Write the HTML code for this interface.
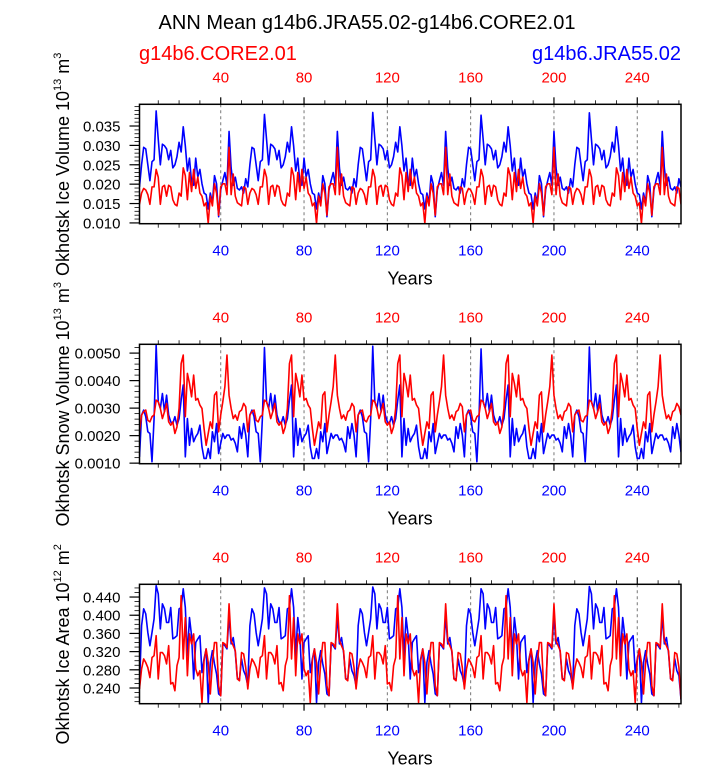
<!DOCTYPE html>
<html><head><meta charset="utf-8"><style>
body{margin:0;background:#fff;}
svg{display:block;font-family:"Liberation Sans",sans-serif;}
</style></head><body>
<svg id="chart" width="723" height="765"></svg>
<script>
// ---- data (repeating forcing cycles) ----
const iceVolBlue=[0.0193,0.0250,0.0295,0.0291,0.0250,0.0209,0.0258,0.0263,0.0389,0.0316,0.0250,0.0303,0.0299,0.0291,0.0263,0.0287,0.0242,0.0250,0.0271,0.0308,0.0283,0.0348,0.0299,0.0234,0.0267,0.0205,0.0197,0.0267,0.0218,0.0238,0.0201,0.0177,0.0173,0.0136,0.0177,0.0152,0.0222,0.0201,0.0116,0.0185,0.0209,0.0230,0.0197,0.0336,0.0242,0.0197,0.0218,0.0189,0.0185,0.0193,0.0177,0.0214,
0.0193,0.0250,0.0295,0.0291,0.0250,0.0209,0.0258,0.0263,0.0380,0.0316,0.0250,0.0303,0.0299,0.0291,0.0263,0.0287,0.0242,0.0250,0.0271,0.0308,0.0283,0.0348,0.0299,0.0234,0.0267,0.0205,0.0197,0.0267,0.0218,0.0238,0.0201,0.0177,0.0173,0.0136,0.0177,0.0152,0.0222,0.0201,0.0116,0.0185,0.0209,0.0230,0.0197,0.0336,0.0242,0.0197,0.0218,0.0189,0.0185,0.0193,0.0177,0.0214,
0.0193,0.0250,0.0295,0.0291,0.0250,0.0209,0.0258,0.0263,0.0385,0.0316,0.0250,0.0303,0.0299,0.0291,0.0263,0.0287,0.0242,0.0250,0.0271,0.0308,0.0283,0.0348,0.0299,0.0234,0.0267,0.0205,0.0197,0.0267,0.0218,0.0238,0.0201,0.0177,0.0173,0.0136,0.0177,0.0152,0.0222,0.0201,0.0116,0.0185,0.0209,0.0230,0.0197,0.0336,0.0242,0.0197,0.0218,0.0189,0.0185,0.0193,0.0177,0.0214,
0.0193,0.0250,0.0295,0.0291,0.0250,0.0209,0.0258,0.0263,0.0378,0.0316,0.0250,0.0303,0.0299,0.0291,0.0263,0.0287,0.0242,0.0250,0.0271,0.0308,0.0283,0.0348,0.0299,0.0234,0.0267,0.0205,0.0197,0.0267,0.0218,0.0238,0.0201,0.0177,0.0173,0.0136,0.0177,0.0152,0.0222,0.0201,0.0116,0.0185,0.0209,0.0230,0.0197,0.0336,0.0242,0.0197,0.0218,0.0189,0.0185,0.0193,0.0177,0.0214,
0.0193,0.0250,0.0295,0.0291,0.0250,0.0209,0.0258,0.0263,0.0384,0.0316,0.0250,0.0303,0.0299,0.0291,0.0263,0.0287,0.0242,0.0250,0.0271,0.0308,0.0283,0.0348,0.0299,0.0234,0.0267,0.0205,0.0197,0.0267,0.0218,0.0238,0.0201,0.0177,0.0173,0.0136,0.0177,0.0152,0.0222,0.0201,0.0116,0.0185,0.0209,0.0230,0.0197,0.0336,0.0242,0.0197,0.0218,0.0189,0.0185,0.0193,0.0177,0.0214,
0.0193];
const iceVolRed=[0.0148,0.0177,0.0189,0.0185,0.0173,0.0148,0.0193,0.0193,0.0238,0.0218,0.0148,0.0193,0.0197,0.0169,0.0197,0.0193,0.0160,0.0148,0.0144,0.0177,0.0169,0.0242,0.0222,0.0160,0.0230,0.0181,0.0238,0.0189,0.0218,0.0177,0.0169,0.0144,0.0152,0.0099,0.0169,0.0144,0.0201,0.0177,0.0120,0.0193,0.0201,0.0201,0.0173,0.0295,0.0173,0.0226,0.0169,0.0152,0.0148,0.0144,0.0193,0.0189,
0.0148,0.0177,0.0189,0.0185,0.0173,0.0148,0.0193,0.0193,0.0238,0.0218,0.0148,0.0193,0.0197,0.0169,0.0197,0.0193,0.0160,0.0148,0.0144,0.0177,0.0169,0.0242,0.0222,0.0160,0.0230,0.0181,0.0238,0.0189,0.0218,0.0177,0.0169,0.0144,0.0152,0.0099,0.0169,0.0144,0.0201,0.0177,0.0120,0.0193,0.0201,0.0201,0.0173,0.0295,0.0173,0.0226,0.0169,0.0152,0.0148,0.0144,0.0193,0.0189,
0.0148,0.0177,0.0189,0.0185,0.0173,0.0148,0.0193,0.0193,0.0238,0.0218,0.0148,0.0193,0.0197,0.0169,0.0197,0.0193,0.0160,0.0148,0.0144,0.0177,0.0169,0.0242,0.0222,0.0160,0.0230,0.0181,0.0238,0.0189,0.0218,0.0177,0.0169,0.0144,0.0152,0.0099,0.0169,0.0144,0.0201,0.0177,0.0120,0.0193,0.0201,0.0201,0.0173,0.0295,0.0173,0.0226,0.0169,0.0152,0.0148,0.0144,0.0193,0.0189,
0.0148,0.0177,0.0189,0.0185,0.0173,0.0148,0.0193,0.0193,0.0238,0.0218,0.0148,0.0193,0.0197,0.0169,0.0197,0.0193,0.0160,0.0148,0.0144,0.0177,0.0169,0.0242,0.0222,0.0160,0.0230,0.0181,0.0238,0.0189,0.0218,0.0177,0.0169,0.0144,0.0152,0.0099,0.0169,0.0144,0.0201,0.0177,0.0120,0.0193,0.0201,0.0201,0.0173,0.0295,0.0173,0.0226,0.0169,0.0152,0.0148,0.0144,0.0193,0.0189,
0.0148,0.0177,0.0189,0.0185,0.0173,0.0148,0.0193,0.0193,0.0238,0.0218,0.0148,0.0193,0.0197,0.0169,0.0197,0.0193,0.0160,0.0148,0.0144,0.0177,0.0169,0.0242,0.0222,0.0160,0.0230,0.0181,0.0238,0.0189,0.0218,0.0177,0.0169,0.0144,0.0152,0.0099,0.0169,0.0144,0.0201,0.0177,0.0120,0.0193,0.0201,0.0201,0.0173,0.0295,0.0173,0.0226,0.0169,0.0152,0.0148,0.0144,0.0193,0.0189,
0.0148];
const snowBlue=[0.00123,0.00275,0.00293,0.00269,0.00214,0.00208,0.00105,0.00262,0.00529,0.00323,0.00299,0.00353,0.00287,0.00347,0.00275,0.00250,0.00244,0.00269,0.00238,0.00262,0.00329,0.00384,0.00123,0.00262,0.00165,0.00226,0.00178,0.00196,0.00208,0.00238,0.00159,0.00117,0.00117,0.00153,0.00117,0.00214,0.00178,0.00244,0.00135,0.00172,0.00208,0.00190,0.00202,0.00202,0.00184,0.00190,0.00172,0.00141,0.00232,0.00190,0.00244,0.00202,
0.00123,0.00275,0.00293,0.00269,0.00214,0.00208,0.00105,0.00262,0.00520,0.00323,0.00299,0.00353,0.00287,0.00347,0.00275,0.00250,0.00244,0.00269,0.00238,0.00262,0.00329,0.00384,0.00123,0.00262,0.00165,0.00226,0.00178,0.00196,0.00208,0.00238,0.00159,0.00117,0.00117,0.00153,0.00117,0.00214,0.00178,0.00244,0.00135,0.00172,0.00208,0.00190,0.00202,0.00202,0.00184,0.00190,0.00172,0.00141,0.00232,0.00190,0.00244,0.00202,
0.00123,0.00275,0.00293,0.00269,0.00214,0.00208,0.00105,0.00262,0.00525,0.00323,0.00299,0.00353,0.00287,0.00347,0.00275,0.00250,0.00244,0.00269,0.00238,0.00262,0.00329,0.00384,0.00123,0.00262,0.00165,0.00226,0.00178,0.00196,0.00208,0.00238,0.00159,0.00117,0.00117,0.00153,0.00117,0.00214,0.00178,0.00244,0.00135,0.00172,0.00208,0.00190,0.00202,0.00202,0.00184,0.00190,0.00172,0.00141,0.00232,0.00190,0.00244,0.00202,
0.00123,0.00275,0.00293,0.00269,0.00214,0.00208,0.00105,0.00262,0.00515,0.00323,0.00299,0.00353,0.00287,0.00347,0.00275,0.00250,0.00244,0.00269,0.00238,0.00262,0.00329,0.00384,0.00123,0.00262,0.00165,0.00226,0.00178,0.00196,0.00208,0.00238,0.00159,0.00117,0.00117,0.00153,0.00117,0.00214,0.00178,0.00244,0.00135,0.00172,0.00208,0.00190,0.00202,0.00202,0.00184,0.00190,0.00172,0.00141,0.00232,0.00190,0.00244,0.00202,
0.00123,0.00275,0.00293,0.00269,0.00214,0.00208,0.00105,0.00262,0.00522,0.00323,0.00299,0.00353,0.00287,0.00347,0.00275,0.00250,0.00244,0.00269,0.00238,0.00262,0.00329,0.00384,0.00123,0.00262,0.00165,0.00226,0.00178,0.00196,0.00208,0.00238,0.00159,0.00117,0.00117,0.00153,0.00117,0.00214,0.00178,0.00244,0.00135,0.00172,0.00208,0.00190,0.00202,0.00202,0.00184,0.00190,0.00172,0.00141,0.00232,0.00190,0.00244,0.00202,
0.00140];
const snowRed=[0.00214,0.00275,0.00287,0.00293,0.00256,0.00250,0.00269,0.00275,0.00329,0.00323,0.00299,0.00262,0.00287,0.00317,0.00250,0.00238,0.00250,0.00208,0.00232,0.00299,0.00462,0.00493,0.00269,0.00426,0.00390,0.00341,0.00420,0.00329,0.00335,0.00311,0.00299,0.00226,0.00165,0.00208,0.00250,0.00226,0.00347,0.00359,0.00214,0.00275,0.00323,0.00378,0.00493,0.00347,0.00299,0.00262,0.00275,0.00256,0.00287,0.00293,0.00317,0.00305,
0.00214,0.00275,0.00287,0.00293,0.00256,0.00250,0.00269,0.00275,0.00329,0.00323,0.00299,0.00262,0.00287,0.00317,0.00250,0.00238,0.00250,0.00208,0.00232,0.00299,0.00462,0.00493,0.00269,0.00426,0.00390,0.00341,0.00420,0.00329,0.00335,0.00311,0.00299,0.00226,0.00165,0.00208,0.00250,0.00226,0.00347,0.00359,0.00214,0.00275,0.00323,0.00378,0.00493,0.00347,0.00299,0.00262,0.00275,0.00256,0.00287,0.00293,0.00317,0.00305,
0.00214,0.00275,0.00287,0.00293,0.00256,0.00250,0.00269,0.00275,0.00329,0.00323,0.00299,0.00262,0.00287,0.00317,0.00250,0.00238,0.00250,0.00208,0.00232,0.00299,0.00462,0.00493,0.00269,0.00426,0.00390,0.00341,0.00420,0.00329,0.00335,0.00311,0.00299,0.00226,0.00165,0.00208,0.00250,0.00226,0.00347,0.00359,0.00214,0.00275,0.00323,0.00378,0.00493,0.00347,0.00299,0.00262,0.00275,0.00256,0.00287,0.00293,0.00317,0.00305,
0.00214,0.00275,0.00287,0.00293,0.00256,0.00250,0.00269,0.00275,0.00329,0.00323,0.00299,0.00262,0.00287,0.00317,0.00250,0.00238,0.00250,0.00208,0.00232,0.00299,0.00462,0.00493,0.00269,0.00426,0.00390,0.00341,0.00420,0.00329,0.00335,0.00311,0.00299,0.00226,0.00165,0.00208,0.00250,0.00226,0.00347,0.00359,0.00214,0.00275,0.00323,0.00378,0.00493,0.00347,0.00299,0.00262,0.00275,0.00256,0.00287,0.00293,0.00317,0.00305,
0.00214,0.00275,0.00287,0.00293,0.00256,0.00250,0.00269,0.00275,0.00329,0.00323,0.00299,0.00262,0.00287,0.00317,0.00250,0.00238,0.00250,0.00208,0.00232,0.00299,0.00462,0.00493,0.00269,0.00426,0.00390,0.00341,0.00420,0.00329,0.00335,0.00311,0.00299,0.00226,0.00165,0.00208,0.00250,0.00226,0.00347,0.00359,0.00214,0.00275,0.00323,0.00378,0.00493,0.00347,0.00299,0.00262,0.00275,0.00256,0.00287,0.00293,0.00317,0.00305,
0.00275];
const areaBlue=[0.245,0.377,0.414,0.403,0.362,0.333,0.362,0.392,0.465,0.447,0.370,0.425,0.414,0.384,0.384,0.417,0.348,0.351,0.355,0.414,0.417,0.458,0.417,0.311,0.395,0.355,0.260,0.340,0.348,0.355,0.274,0.304,0.326,0.208,0.296,0.322,0.293,0.271,0.227,0.223,0.337,0.333,0.326,0.399,0.337,0.351,0.318,0.260,0.260,0.304,0.278,0.267,
0.245,0.377,0.414,0.403,0.362,0.333,0.362,0.392,0.460,0.447,0.370,0.425,0.414,0.384,0.384,0.417,0.348,0.351,0.355,0.414,0.417,0.458,0.417,0.311,0.395,0.355,0.260,0.340,0.348,0.355,0.274,0.304,0.326,0.208,0.296,0.322,0.293,0.271,0.227,0.223,0.337,0.333,0.326,0.399,0.337,0.351,0.318,0.260,0.260,0.304,0.278,0.267,
0.245,0.377,0.414,0.403,0.362,0.333,0.362,0.392,0.462,0.447,0.370,0.425,0.414,0.384,0.384,0.417,0.348,0.351,0.355,0.414,0.417,0.458,0.417,0.311,0.395,0.355,0.260,0.340,0.348,0.355,0.274,0.304,0.326,0.208,0.296,0.322,0.293,0.271,0.227,0.223,0.337,0.333,0.326,0.399,0.337,0.351,0.318,0.260,0.260,0.304,0.278,0.267,
0.245,0.377,0.414,0.403,0.362,0.333,0.362,0.392,0.458,0.447,0.370,0.425,0.414,0.384,0.384,0.417,0.348,0.351,0.355,0.414,0.417,0.458,0.417,0.311,0.395,0.355,0.260,0.340,0.348,0.355,0.274,0.304,0.326,0.208,0.296,0.322,0.293,0.271,0.227,0.223,0.337,0.333,0.326,0.399,0.337,0.351,0.318,0.260,0.260,0.304,0.278,0.267,
0.245,0.377,0.414,0.403,0.362,0.333,0.362,0.392,0.463,0.447,0.370,0.425,0.414,0.384,0.384,0.417,0.348,0.351,0.355,0.414,0.417,0.458,0.417,0.311,0.395,0.355,0.260,0.340,0.348,0.355,0.274,0.304,0.326,0.208,0.296,0.322,0.293,0.271,0.227,0.223,0.337,0.333,0.326,0.399,0.337,0.351,0.318,0.260,0.260,0.304,0.278,0.267,
0.215];
const areaRed=[0.238,0.282,0.304,0.296,0.285,0.263,0.307,0.311,0.355,0.260,0.318,0.318,0.311,0.293,0.333,0.249,0.252,0.234,0.289,0.307,0.443,0.304,0.395,0.267,0.359,0.337,0.359,0.282,0.267,0.278,0.208,0.300,0.326,0.296,0.227,0.296,0.340,0.340,0.245,0.223,0.340,0.337,0.329,0.425,0.344,0.333,0.322,0.260,0.256,0.318,0.315,0.285,
0.238,0.282,0.304,0.296,0.285,0.263,0.307,0.311,0.355,0.260,0.318,0.318,0.311,0.293,0.333,0.249,0.252,0.234,0.289,0.307,0.443,0.304,0.395,0.267,0.359,0.337,0.359,0.282,0.267,0.278,0.208,0.300,0.326,0.296,0.227,0.296,0.340,0.340,0.245,0.223,0.340,0.337,0.329,0.425,0.344,0.333,0.322,0.260,0.256,0.318,0.315,0.285,
0.238,0.282,0.304,0.296,0.285,0.263,0.307,0.311,0.355,0.260,0.318,0.318,0.311,0.293,0.333,0.249,0.252,0.234,0.289,0.307,0.443,0.304,0.395,0.267,0.359,0.337,0.359,0.282,0.267,0.278,0.208,0.300,0.326,0.296,0.227,0.296,0.340,0.340,0.245,0.223,0.340,0.337,0.329,0.425,0.344,0.333,0.322,0.260,0.256,0.318,0.315,0.285,
0.238,0.282,0.304,0.296,0.285,0.263,0.307,0.311,0.355,0.260,0.318,0.318,0.311,0.293,0.333,0.249,0.252,0.234,0.289,0.307,0.443,0.304,0.395,0.267,0.359,0.337,0.359,0.282,0.267,0.278,0.208,0.300,0.326,0.296,0.227,0.296,0.340,0.340,0.245,0.223,0.340,0.337,0.329,0.425,0.344,0.333,0.322,0.260,0.256,0.318,0.315,0.285,
0.238,0.282,0.304,0.296,0.285,0.263,0.307,0.311,0.355,0.260,0.318,0.318,0.311,0.293,0.333,0.249,0.252,0.234,0.289,0.307,0.443,0.304,0.395,0.267,0.359,0.337,0.359,0.282,0.267,0.278,0.208,0.300,0.326,0.296,0.227,0.296,0.340,0.340,0.245,0.223,0.340,0.337,0.329,0.425,0.344,0.333,0.322,0.260,0.256,0.318,0.315,0.285,
0.215];
const xTicks=[40,80,120,160,200,240];
const iceVolTicks=["0.010","0.015","0.020","0.025","0.030","0.035"];
const snowTicks=["0.0010","0.0020","0.0030","0.0040","0.0050"];
const areaTicks=["0.240","0.280","0.320","0.360","0.400","0.440"];

const NS="http://www.w3.org/2000/svg";
const svg=document.getElementById('chart');
function mk(tag,attrs,parent){const e=document.createElementNS(NS,tag);for(const k in attrs)e.setAttribute(k,attrs[k]);(parent||svg).appendChild(e);return e;}
const L=139.5,R=681,X0=1,X1=261;
function xs(v){return L+(v-X0)/(X1-X0)*(R-L);}

let t=mk('text',{x:367,y:29,'text-anchor':'middle','font-size':20,fill:'#000'});


t.textContent='ANN Mean g14b6.JRA55.02-g14b6.CORE2.01';
t=mk('text',{x:139,y:60,'font-size':20,fill:'#f00'});


t.textContent='g14b6.CORE2.01';
t=mk('text',{x:681,y:60,'text-anchor':'end','font-size':20,fill:'#00f'});


t.textContent='g14b6.JRA55.02';

const panels=[
 {top:104.3,ymin:0.0098,ymax:0.0406,ticks:iceVolTicks,minor:0.001,blue:iceVolBlue,red:iceVolRed,title:'Okhotsk Ice Volume 10',sup:'13',unit:' m',usup:'3',name:'ice-volume'},
 {top:344.3,ymin:0.00098,ymax:0.00532,ticks:snowTicks,minor:0.0002,blue:snowBlue,red:snowRed,title:'Okhotsk Snow Volume 10',sup:'13',unit:' m',usup:'3',name:'snow-volume'},
 {top:584.3,ymin:0.2055,ymax:0.468,ticks:areaTicks,minor:0.01,blue:areaBlue,red:areaRed,title:'Okhotsk Ice Area 10',sup:'12',unit:' m',usup:'2',name:'ice-area'}
];
panels.forEach((p,pi)=>{
 const T=p.top,B=T+119.4;
 const ys=v=>B-(v-p.ymin)/(p.ymax-p.ymin)*(B-T);
 const g=mk('g',{});
 
 
 const cid='clip'+pi;
 const cp=mk('clipPath',{id:cid},g);mk('rect',{x:L,y:T,width:R-L,height:B-T},cp);
 xTicks.forEach(v=>{const l=mk('line',{x1:xs(v),x2:xs(v),y1:T,y2:B,stroke:'#777','stroke-width':1,'stroke-dasharray':'3,3'},g);
  
  });
 [['blue','#00f'],['red','#f00']].forEach(([k,c])=>{
  const d=p[k].map((v,i)=>(i?'L':'M')+xs(X0+i).toFixed(2)+','+ys(v).toFixed(2)).join('');
  const path=mk('path',{d:d,fill:'none',stroke:c,'stroke-width':1.6,'stroke-linejoin':'round','clip-path':'url(#'+cid+')'},g);
  
  
 });
 mk('rect',{x:L,y:T,width:R-L,height:B-T,fill:'none',stroke:'#000','stroke-width':1.5},g);
 for(let v=10;v<=260;v+=10){const maj=v%40===0;const len=maj?7:4;
  mk('line',{x1:xs(v),x2:xs(v),y1:T,y2:T-len,stroke:'#000','stroke-width':maj?1.2:0.8},g);
  mk('line',{x1:xs(v),x2:xs(v),y1:B,y2:B+len,stroke:'#000','stroke-width':maj?1.2:0.8},g);}
 xTicks.forEach(v=>{
  let a=mk('text',{x:xs(v),y:T-22,'text-anchor':'middle','font-size':15,fill:'#f00'},g);
  
  
  a.textContent=v;
  let b=mk('text',{x:xs(v),y:B+32,'text-anchor':'middle','font-size':15,fill:'#00f'},g);
  
  
  b.textContent=v;
 });
 let xt=mk('text',{x:410,y:B+61,'text-anchor':'middle','font-size':18,fill:'#000'},g);
 
 
 xt.textContent='Years';
 const step=parseFloat(p.ticks[1])-parseFloat(p.ticks[0]);
 for(let v=parseFloat(p.ticks[0])-step;v<=p.ymax+1e-9;v+=p.minor){ if(v<p.ymin-1e-9) continue;
  mk('line',{x1:L,x2:L-5,y1:ys(v),y2:ys(v),stroke:'#000','stroke-width':0.8},g);}
 p.ticks.forEach(s=>{const v=parseFloat(s);
  mk('line',{x1:L,x2:L-10,y1:ys(v),y2:ys(v),stroke:'#000','stroke-width':1.2},g);
  const a=mk('text',{x:L-19,y:ys(v)+5.5,'text-anchor':'end','font-size':15,fill:'#000'},g);
  
  
  a.textContent=s;});
 const cy=T+60;
 const yt=mk('text',{x:0,y:0,'text-anchor':'middle','font-size':18,fill:'#000',transform:'translate(69,'+cy+') rotate(-90)'},g);
 
 
 yt.innerHTML=p.title+'<tspan font-size="11" dy="-8">'+p.sup+'</tspan><tspan dy="8">'+p.unit+'</tspan><tspan font-size="11" dy="-8">'+p.usup+'</tspan>';
});
</script>
</body></html>
